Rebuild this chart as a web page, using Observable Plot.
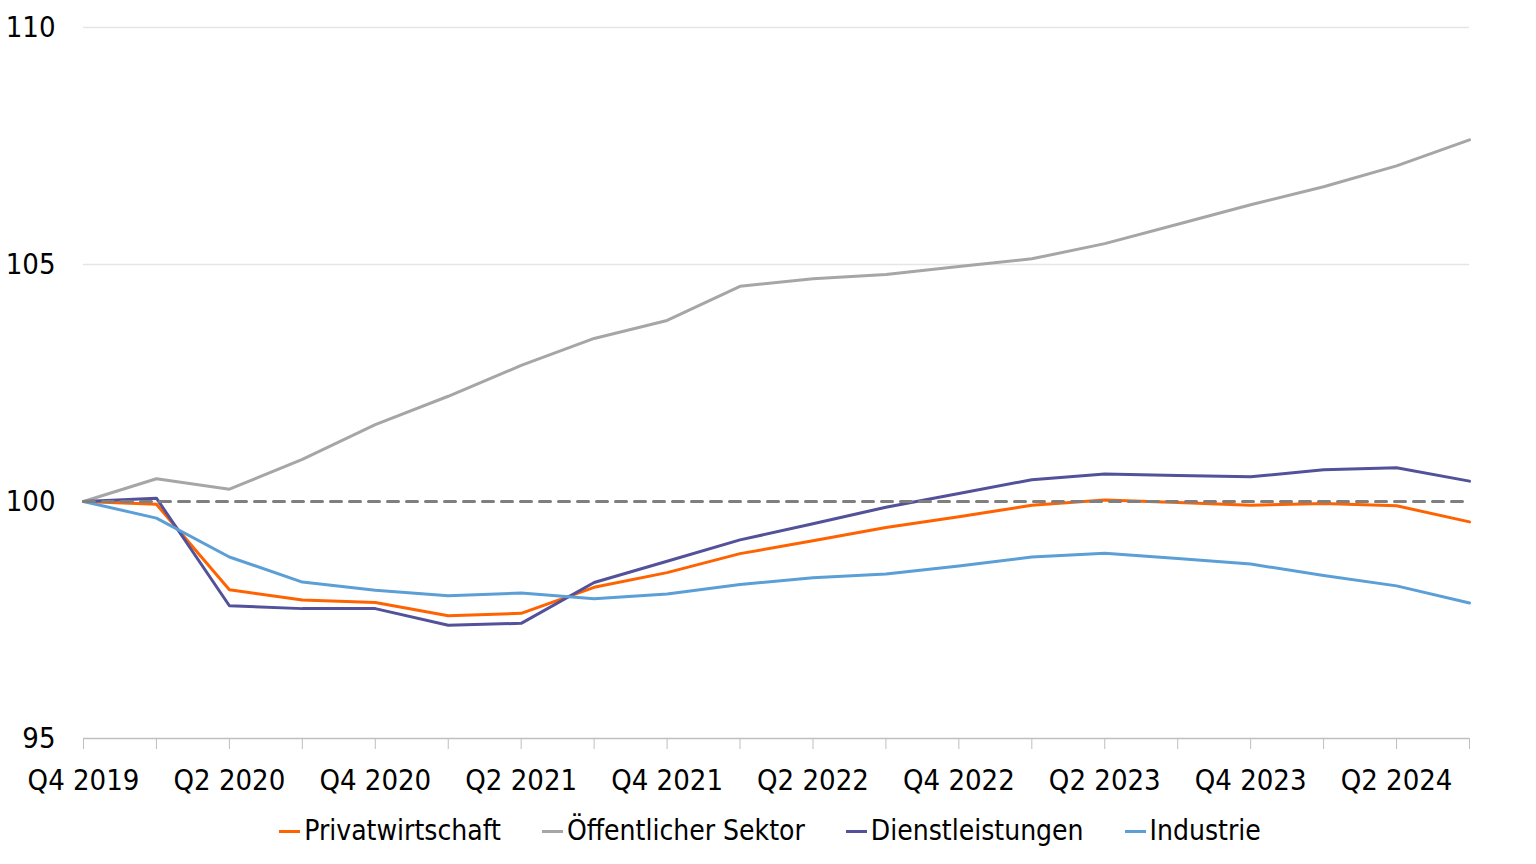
<!DOCTYPE html>
<html><head><meta charset="utf-8">
<script src="https://cdn.jsdelivr.net/npm/d3@7"></script>
<script src="https://cdn.jsdelivr.net/npm/@observablehq/plot@0.6"></script>
<style>
body{margin:0;background:#fff;font-family:"DejaVu Sans Condensed","DejaVu Sans",sans-serif;}
#chart svg{display:block;}
#legend{display:flex;justify-content:center;gap:41px;font-size:28px;color:#000;padding-top:12px;line-height:38px;padding-left:4px;}
.item{display:flex;align-items:center;}
.sw{width:21px;height:3px;margin-right:4px;}
</style></head><body>
<div id="chart"></div><div id="legend"></div>
<script>
const quarters=["Q4 2019","Q1 2020","Q2 2020","Q3 2020","Q4 2020","Q1 2021","Q2 2021","Q3 2021","Q4 2021","Q1 2022","Q2 2022","Q3 2022","Q4 2022","Q1 2023","Q2 2023","Q3 2023","Q4 2023","Q1 2024","Q2 2024","Q3 2024"];
const privatwirtschaft=[100,99.94,98.14,97.92,97.87,97.59,97.64,98.19,98.50,98.90,99.17,99.45,99.68,99.92,100.03,99.98,99.92,99.96,99.91,99.57];
const oeffentlich=[100,100.48,100.26,100.89,101.62,102.22,102.87,103.44,103.82,104.54,104.70,104.79,104.96,105.12,105.44,105.85,106.26,106.64,107.08,107.63];
const dienstleistungen=[100,100.07,97.80,97.74,97.74,97.39,97.43,98.29,98.74,99.19,99.53,99.88,100.17,100.46,100.58,100.55,100.52,100.67,100.71,100.43];
const industrie=[100,99.65,98.83,98.30,98.13,98.01,98.07,97.95,98.05,98.25,98.39,98.47,98.64,98.83,98.91,98.80,98.68,98.44,98.22,97.86];
const referenz=quarters.map(()=>100);
const seriesNames=["Privatwirtschaft","Öffentlicher Sektor","Dienstleistungen","Industrie"];
const seriesColors=["#FF6200","#A6A6A6","#525199","#5B9FD6"];
const seriesValues=[privatwirtschaft,oeffentlich,dienstleistungen,industrie];
const yTicks=[95,100,105,110];
const gridTicks=[105,110];

const idx=quarters.map((q,i)=>i);
const rows=[];
seriesValues.forEach((vals,i)=>vals.forEach((v,j)=>rows.push({i:j,v,s:seriesNames[i]})));

const font='"DejaVu Sans Condensed","DejaVu Sans",sans-serif';
const chart=Plot.plot({
  width:1536,height:800,
  marginLeft:83,marginRight:67,marginTop:27,marginBottom:62,
  style:{fontFamily:font,fontSize:"29px",color:"#000",background:"#fff"},
  x:{type:"linear",domain:[0,quarters.length-1],label:null},
  y:{domain:[95,110],label:null},
  marks:[
    Plot.ruleY(gridTicks,{stroke:"#e5e5e5",strokeWidth:1.3}),
    Plot.axisY({ticks:yTicks,tickSize:0,tickPadding:28,fontSize:29,fill:"#000",label:null}),
    Plot.axisX({ticks:idx,tickSize:11,tickPadding:20,stroke:"#bfbfbf",fontSize:29,fill:"#000",label:null,
      tickFormat:i=>i%2===0?quarters[i]:""}),
    Plot.ruleY([95],{stroke:"#bfbfbf",strokeWidth:1.3}),
    Plot.line(rows,{x:"i",y:"v",z:"s",stroke:"s",strokeWidth:3,strokeLinejoin:"round"}),
    Plot.lineY(referenz,{x:idx,stroke:"#7f7f7f",strokeWidth:3,strokeDasharray:"11,8"})
  ],
  color:{domain:seriesNames,range:seriesColors}
});
document.getElementById("chart").append(chart);

const lg=document.getElementById("legend");
seriesNames.forEach((n,i)=>{
  const it=document.createElement("div");it.className="item";
  const sw=document.createElement("div");sw.className="sw";sw.style.background=seriesColors[i];
  const t=document.createElement("span");t.textContent=n;
  it.append(sw,t);lg.append(it);
});
</script>
</body></html>
